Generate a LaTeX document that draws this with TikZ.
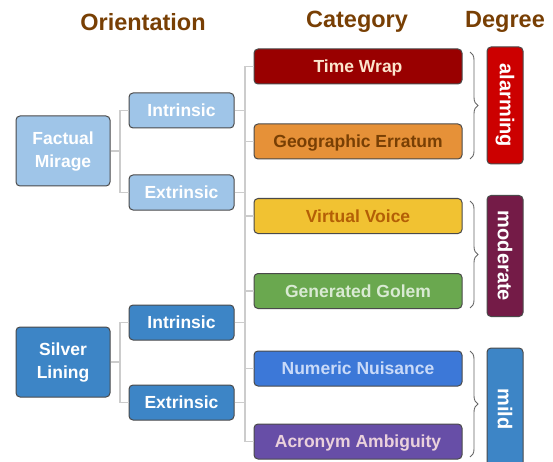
\documentclass[tikz,border=0pt]{standalone}
\usepackage{fontspec}
\setmainfont{Liberation Sans}
\usetikzlibrary{decorations.pathreplacing}
\definecolor{hdr}{HTML}{783F04}
\definecolor{bord}{HTML}{4A4A4A}
\definecolor{conn}{HTML}{CCCCCC}
\definecolor{lblue}{HTML}{9FC5E8}
\definecolor{mblue}{HTML}{3D85C6}
\definecolor{cTW}{HTML}{990000}\definecolor{tTW}{HTML}{FCE5CD}
\definecolor{cGE}{HTML}{E69138}\definecolor{tGE}{HTML}{783F04}
\definecolor{cVV}{HTML}{F1C232}\definecolor{tVV}{HTML}{B45F06}
\definecolor{cGG}{HTML}{6AA84F}\definecolor{tGG}{HTML}{D9EAD3}
\definecolor{cNN}{HTML}{3C78D8}\definecolor{tNN}{HTML}{C9DAF8}
\definecolor{cAA}{HTML}{674EA7}\definecolor{tAA}{HTML}{EAD1DC}
\definecolor{cAl}{HTML}{CC0000}
\definecolor{cMo}{HTML}{741B47}
\tikzset{
  box/.style={draw=bord, line width=1pt, rounded corners=4pt, inner sep=0pt, align=center,
    font=\bfseries\fontsize{17.5}{23}\selectfont},
  onebox/.style={box, text height=12.5pt, text depth=0pt},
  rootbox/.style={box, minimum width=94pt, minimum height=70pt, text=white},
  oribox/.style={onebox, minimum width=105pt, minimum height=35pt, text=white},
  catbox/.style={onebox, minimum width=208pt, minimum height=35pt},
  degbox/.style={box, minimum width=36pt, font=\bfseries\fontsize{20}{24}\selectfont, text=white},
  header/.style={font=\bfseries\fontsize{23.5}{28}\selectfont, text=hdr, inner sep=0pt},
  conline/.style={draw=conn, line width=1.6pt},
  bracestyle/.style={draw=black!60, line width=0.9pt, decorate, decoration={brace, amplitude=8pt}},
}
\newcommand{\twolines}[2]{\raisebox{-2pt}{\begin{tabular}{@{}c@{}}#1\\#2\end{tabular}}}
\begin{document}
\begin{tikzpicture}[x=1pt, y=-1pt]
\useasboundingbox (0,0) rectangle (553,462);
\clip (0,0) rectangle (553,462);
% headers
\node[header] (h1) at (143,22) {Orientation};
\node[header] (h2) at (357,22) {Category};
\node[header] (h3) at (505,22) {Degree};
% roots
\node[rootbox, fill=lblue] (fm) at (63,151) {\twolines{Factual}{Mirage}};
\node[rootbox, fill=mblue] (sl) at (63,362) {\twolines{Silver}{Lining}};
% orientations
\node[oribox, fill=lblue] (fmi) at (181.5,110.5) {Intrinsic};
\node[oribox, fill=lblue] (fme) at (181.5,192.5) {Extrinsic};
\node[oribox, fill=mblue] (sli) at (181.5,322.5) {Intrinsic};
\node[oribox, fill=mblue] (sle) at (181.5,402.5) {Extrinsic};
% categories
\node[catbox, fill=cTW, text=tTW] (c1) at (358,66.5) {Time Wrap};
\node[catbox, fill=cGE, text=tGE] (c2) at (358,141.5) {Geographic Erratum};
\node[catbox, fill=cVV, text=tVV] (c3) at (358,216) {Virtual Voice};
\node[catbox, fill=cGG, text=tGG] (c4) at (358,291) {Generated Golem};
\node[catbox, fill=cNN, text=tNN] (c5) at (358,368.5) {Numeric Nuisance};
\node[catbox, fill=cAA, text=tAA] (c6) at (358,441.5) {Acronym Ambiguity};
% degrees
\node[degbox, fill=cAl, minimum height=117pt] (d1) at (505,105.5) {\rotatebox{-90}{alarming}};
\node[degbox, fill=cMo, minimum height=121pt] (d2) at (505,256) {\rotatebox{-90}{moderate}};
\node[degbox, fill=mblue, minimum height=122pt] (d3) at (505,409) {\rotatebox{-90}{mild}};
% connectors
\coordinate (j1) at (120,0);
\coordinate (tr) at (245,0);
\draw[conline] (fmi.west) -- (fmi.west -| j1) -- (fme.west -| j1) -- (fme.west);
\draw[conline] (fm.east) -- (fm.east -| j1);
\draw[conline] (sli.west) -- (sli.west -| j1) -- (sle.west -| j1) -- (sle.west);
\draw[conline] (sl.east) -- (sl.east -| j1);
\draw[conline] (c1.west) -- (c1.west -| tr) -- (c6.west -| tr) -- (c6.west);
\foreach \n in {c2,c3,c4,c5}{\draw[conline] (\n.west -| tr) -- (\n.west);}
\foreach \n in {fmi,fme,sli,sle}{\draw[conline] (\n.east) -- (\n.east -| tr);}
% braces
\coordinate (b1t) at (470,52); \coordinate (b1b) at (470,159);
\coordinate (b2t) at (470,201); \coordinate (b2b) at (470,308);
\coordinate (b3t) at (470,351); \coordinate (b3b) at (470,457);
\draw[bracestyle] (b1t) -- (b1b);
\draw[bracestyle] (b2t) -- (b2b);
\draw[bracestyle] (b3t) -- (b3b);
\end{tikzpicture}
\end{document}
